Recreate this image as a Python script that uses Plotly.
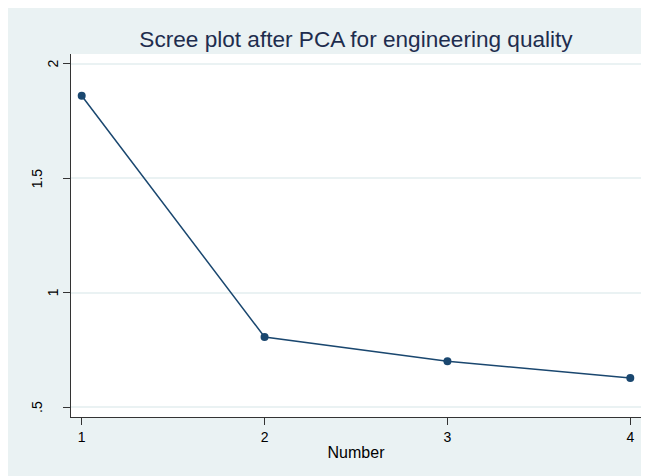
import plotly.graph_objects as go

components = [1, 2, 3, 4]
eigenvalues = [1.861, 0.806, 0.700, 0.627]
y_tickvals = [0.5, 1.0, 1.5, 2.0]
y_ticktext = [".5", "1", "1.5", "2"]
x_tickvals = [1, 2, 3, 4]
title_text = "Scree plot after PCA for engineering quality"
x_title = "Number"

BG = "#eaf2f3"
NAVY = "#1a476f"
AXIS = "#333333"
FONT = "Liberation Sans, Arial, sans-serif"

W, H = 649, 476
L, R, T, B = 63, 16, 46, 67
pw, ph = W - L - R, H - T - B

fig = go.Figure()
fig.add_trace(go.Scatter(
    x=components, y=eigenvalues, mode="lines+markers",
    line=dict(color=NAVY, width=1.5),
    marker=dict(color=NAVY, size=8),
    showlegend=False, hoverinfo="x+y",
))

# y tick labels drawn as rotated text (Stata-style placement)
annotations = []
for v, t in zip(y_tickvals, y_ticktext):
    annotations.append(dict(
        x=0, xref="paper", y=v, yref="y", text=t, showarrow=False,
        textangle=-90, xanchor="center", yanchor="middle",
        xshift=-34 if "." in t else -18.5,
        font=dict(size=14, color="black", family=FONT),
    ))

fig.update_layout(
    width=W, height=H,
    margin=dict(l=L, r=R, t=T, b=B, pad=0),
    paper_bgcolor=BG, plot_bgcolor="white",
    font=dict(family=FONT, color="black"),
    annotations=annotations,
    title=dict(text=title_text, x=(L + pw / 2) / W, xanchor="center",
               y=1 - 39 / H, yanchor="bottom",
               font=dict(size=22.6, color="#1e2d4e", family=FONT)),
    xaxis=dict(
        range=[0.9415, 4.0585], tickvals=x_tickvals,
        ticks="outside", ticklen=7, tickwidth=1, tickcolor=AXIS,
        showline=True, linecolor=AXIS, linewidth=1,
        showgrid=False, zeroline=False,
        tickfont=dict(size=14, color="black"),
        title=dict(text=x_title, font=dict(size=16, color="black"), standoff=3),
    ),
    yaxis=dict(
        range=[0.4563, 2.0437], tickvals=y_tickvals,
        showticklabels=False,
        ticks="outside", ticklen=7, tickwidth=1, tickcolor=AXIS,
        showline=True, linecolor=AXIS, linewidth=1,
        showgrid=True, gridcolor=BG, gridwidth=1.5, zeroline=False,
    ),
)

fig.write_html("out.html")
